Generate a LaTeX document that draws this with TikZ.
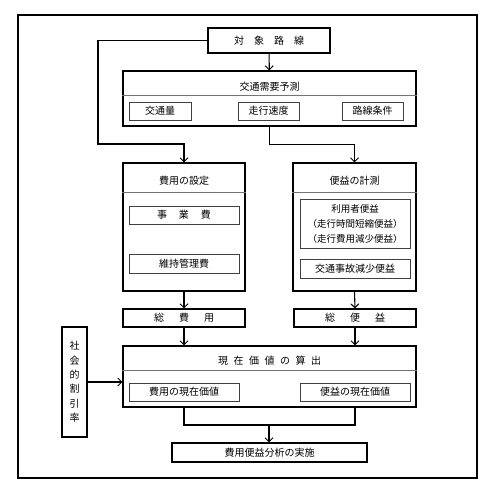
\documentclass[tikz,border=0pt]{standalone}
\usepackage{fontspec}
\newfontfamily\jpfont{Noto Sans CJK JP}
\usetikzlibrary{positioning,calc,arrows.meta}

\begin{document}
\begin{tikzpicture}[
  x=1pt, y=-1pt,
  font=\jpfont\fontsize{10}{12}\selectfont,
  stage/.style={
    draw,
    line width=1.1pt,
    inner sep=0pt,
    align=center
  },
  part/.style={
    draw=black!75,
    line width=0.8pt,
    minimum width=110pt,
    minimum height=18pt,
    inner sep=0pt,
    align=center
  },
  sep/.style={draw=black!55, line width=0.8pt},   % divider under a title
  flow/.style={line width=1.1pt},
  arr/.style={flow, -{Straight Barb[length=4pt,width=8pt,line width=1pt]}}
]
\useasboundingbox (0,0) rectangle (500,491);

% --- outer frame ---
\draw[line width=1.1pt] (18,15) rectangle (477,478);

% --- Row 1: route and demand forecast ---
\node[stage, minimum width=122pt, minimum height=25pt] (route) at (269,40.5)
  {対\hspace{1em}象\hspace{1em}路\hspace{1em}線};
\node[stage, minimum width=293pt, minimum height=55pt] (demand) at (269.5,98.5) {};
\node (demandT) at (269.5,87) {交通需要予測};
\draw[sep] ([yshift=-25pt]demand.north west) -- ([yshift=-25pt]demand.north east);
\node[part, minimum width=62pt] (volume) at (160,111) {交通量};
\node[part, minimum width=61pt] (speed) at (268.5,111) {走行速度};
\node[part, minimum width=61pt] (roadcond) at (372.5,111) {路線条件};

% --- Row 2: cost setting / benefit measurement ---
\node[stage, minimum width=122pt, minimum height=128pt] (cost) at (184,227) {};
\node (costT) at (184,181) {費用の設定};
\draw[sep] ([yshift=-30pt]cost.north west) -- ([yshift=-30pt]cost.north east);
\node[part] (project) at (184,215) {事\hspace{1.2em}業\hspace{1.2em}費};
\node[part, minimum height=19pt] (upkeep) at (184,263.5) {維持管理費};

\node[stage, minimum width=123pt, minimum height=128pt] (benefit) at (354.5,227) {};
\node (benefitT) at (354.5,181) {便益の計測};
\draw[sep] ([yshift=-30pt]benefit.north west) -- ([yshift=-30pt]benefit.north east);
\node[part, minimum height=49pt, font=\jpfont\fontsize{9.5}{15}\selectfont] (user) at (355,223.5)
  {利用者便益\\（走行時間短縮便益）\\（走行費用減少便益）};
\node[part, minimum height=19pt] (accident) at (355,268.5) {交通事故減少便益};

% --- Row 3: totals ---
\node[stage, minimum width=122pt, minimum height=18pt] (totcost) at (184,318)
  {総\hspace{1.5em}費\hspace{1.5em}用};
\node[stage, minimum width=122pt, minimum height=18pt] (totbenefit) at (355,318)
  {総\hspace{1.5em}便\hspace{1.5em}益};

% --- Row 4: present value ---
\node[stage, minimum width=293pt, minimum height=61pt] (present) at (269.5,376.5) {};
\node (presentT) at (269.5,361)
  {現\hspace{0.55em}在\hspace{0.55em}価\hspace{0.55em}値\hspace{0.55em}の\hspace{0.55em}算\hspace{0.55em}出};
\draw[sep] ([yshift=-25pt]present.north west) -- ([yshift=-25pt]present.north east);
\node[part] (pvcost) at (184,392) {費用の現在価値};
\node[part] (pvbenefit) at (355,392) {便益の現在価値};

\node[stage, minimum width=25pt, minimum height=110pt,
      font=\jpfont\fontsize{10}{14.4}\selectfont] (discount) at (74.5,382)
  {社\\会\\的\\割\\引\\率};

% --- final step ---
\node[stage, minimum width=195pt, minimum height=19pt] (cba) at (269.5,452.5) {費用便益分析の実施};

% --- connectors ---
\coordinate (bypass) at (98,144);
\coordinate (merge) at (269,425);
\draw[arr] (route) -- (demand);
\draw[arr] (route.west) -| (bypass) -| (cost.north);
\draw[arr] (demand.south) -- ++(0,18) -| (benefit.north);
\draw[arr] (cost.south) -- (totcost.north);
\draw[arr] (benefit.south) -- (totbenefit.north);
\draw[arr] (totcost.south) -- (totcost.south |- present.north);
\draw[arr] (totbenefit.south) -- (totbenefit.south |- present.north);
\draw[arr] (discount.east) -- (discount.east -| present.west);
\draw[flow] (pvcost |- present.south) |- (merge) -| (pvbenefit |- present.south);
\draw[arr] (merge) -- (merge |- cba.north);

\end{tikzpicture}
\end{document}
